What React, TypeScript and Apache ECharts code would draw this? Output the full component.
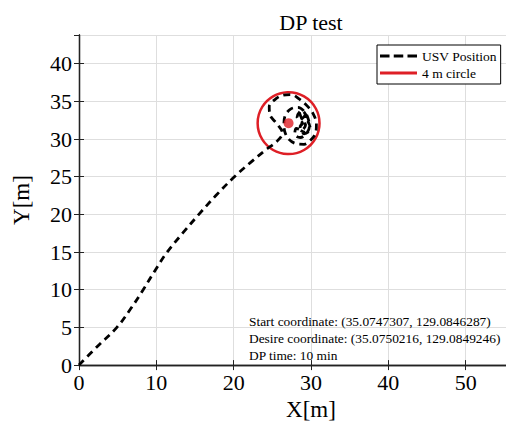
import React, { useEffect, useRef } from "react";
import * as echarts from "echarts";

// USV trajectory (m)
const usvX = [
  0, 2.4, 4.9, 6.7, 8.3, 9.8, 11.4, 13.4, 15.5, 17.7, 20.1, 22.2, 24.2,
  25.6, 26.3, 25.6, 24.7, 24.6, 25.3, 26.3, 27.4, 28.5, 29.5, 30.3, 30.7, 30.6, 30, 29.1, 28, 27.1,
  26.6, 26.5, 26.7, 27.4, 28.3, 29.1, 29.6, 29.8, 29.4, 28.6, 27.9, 28.1, 28.8, 29.3, 28.7, 29.2,
  28.5, 28.9, 29.6, 29.9, 29.1, 28.6, 29.4, 28.8, 28.2, 28.9, 28.4, 29.2,
];
const usvY = [
  0, 2.5, 5, 7.5, 10, 12.5, 15, 17.5, 20, 22.5, 25, 26.9, 28.6,
  29.7, 30.8, 32, 33.2, 34.3, 35.2, 35.8, 35.9, 35.3, 34.4, 33.3, 32, 30.8, 29.9, 29.3, 29.4, 30,
  31, 32.1, 33.2, 34, 34.2, 33.7, 32.8, 31.7, 30.7, 30.2, 30.6, 31.4, 31.2, 31.9, 32.5, 33.1,
  33.5, 32.6, 32.3, 31.3, 30.7, 31.6, 32.9, 33.8, 32.9, 32.1, 31.4, 30.9,
];

// Desired position and circle radius (m)
const desiredPoint = [27.1, 32.1];
const circleRadius = 4;

const xTicks = { min: 0, max: 60, interval: 10 };
const yTicks = { min: 0, max: 43.8, interval: 5 };

const infoLines = [
  "Start coordinate: (35.0747307, 129.0846287)",
  "Desire coordinate: (35.0750216, 129.0849246)",
  "DP time: 10 min",
];

const RED = "#de1f26";
const FONT = "'Liberation Serif', 'Times New Roman', serif";

export default function App() {
  const ref = useRef<HTMLDivElement>(null);

  useEffect(() => {
    document.body.style.margin = "0";
    document.body.style.overflow = "hidden";
    document.documentElement.style.overflow = "hidden";
    if (!ref.current) return;
    const chart = echarts.init(ref.current, undefined, { renderer: "svg" });

    const traj = usvX.map((x, i) => [x, usvY[i]]);

    const axisCommon = {
      axisLine: { show: true, lineStyle: { color: "#222", width: 1.3 } },
      axisTick: { show: true, inside: true, length: 5, lineStyle: { color: "#222", width: 1 } },
    };

    chart.setOption({
      animation: false,
      backgroundColor: "#fff",
      title: {
        text: "DP test",
        left: "center",
        top: 6,
        textStyle: { fontFamily: FONT, fontSize: 22, fontWeight: "normal", color: "#000" },
      },
      grid: { left: 79, right: 79, top: 35, bottom: 54 },
      legend: {
        left: 377,
        top: 45,
        orient: "vertical",
        selectedMode: false,
        backgroundColor: "#fff",
        borderColor: "#000",
        borderWidth: 1,
        borderRadius: 0,
        padding: [4, 4, 4, 3],
        itemGap: 3,
        itemWidth: 37,
        itemHeight: 3,
        symbolKeepAspect: false,
        textStyle: { fontFamily: FONT, fontSize: 13.5, color: "#000" },
        data: [
          {
            name: "USV Position",
            icon: "path://M0,0H9V3H0Z M13,0H22V3H13Z M26,0H35V3H26Z",
            itemStyle: { color: "#000" },
          },
          {
            name: "4 m circle",
            icon: "path://M0,0H40V2H0Z",
            itemStyle: { color: RED },
          },
        ],
      },
      xAxis: [
        {
          type: "value",
          ...xTicks,
          position: "bottom",
          ...axisCommon,
          axisLabel: {
            fontFamily: FONT,
            fontSize: 22,
            color: "#000",
            margin: 6,
            showMaxLabel: false,
          },
          splitLine: { show: true, lineStyle: { color: "#dedede", width: 1 } },
          name: "X[m]",
          nameLocation: "middle",
          nameGap: 29,
          nameTextStyle: { fontFamily: FONT, fontSize: 23, color: "#000" },
        },
        {
          type: "value",
          ...xTicks,
          position: "top",
          ...axisCommon,
          axisLabel: { show: false },
          splitLine: { show: false },
        },
      ],
      yAxis: [
        {
          type: "value",
          ...yTicks,
          position: "left",
          ...axisCommon,
          axisLabel: {
            fontFamily: FONT,
            fontSize: 22,
            color: "#000",
            margin: 7,
            showMaxLabel: false,
          },
          splitLine: { show: true, lineStyle: { color: "#dedede", width: 1 } },
          name: "Y[m]",
          nameLocation: "middle",
          nameGap: 46,
          nameRotate: 90,
          nameTextStyle: { fontFamily: FONT, fontSize: 23, color: "#000" },
        },
        {
          type: "value",
          ...yTicks,
          position: "right",
          ...axisCommon,
          axisLabel: { show: false },
          splitLine: { show: false },
        },
      ],
      series: [
        {
          name: "USV Position",
          type: "line",
          data: traj,
          showSymbol: false,
          symbol: "none",
          smooth: 0.35,
          lineStyle: { color: "#000", width: 2.8, type: [7, 5] },
          itemStyle: { color: "#000" },
          z: 3,
        },
        {
          name: "4 m circle",
          type: "line",
          data: [],
          showSymbol: false,
          symbol: "none",
          lineStyle: { color: RED, width: 2 },
          itemStyle: { color: RED },
        },
        {
          name: "circle",
          type: "custom",
          data: [[desiredPoint[0], desiredPoint[1], circleRadius]],
          renderItem: (params: any, api: any) => {
            const c = api.coord([api.value(0), api.value(1)]);
            const s = api.size([api.value(2), api.value(2)]);
            return {
              type: "circle",
              shape: { cx: c[0], cy: c[1], r: s[0] },
              style: { fill: "none", stroke: RED, lineWidth: 2.5 },
            };
          },
          z: 2,
        },
        {
          name: "desired",
          type: "scatter",
          data: [desiredPoint],
          symbolSize: 10,
          itemStyle: { color: RED },
          z: 4,
        },
      ],
      graphic: [
        {
          type: "text",
          left: 249,
          top: 313,
          style: {
            text: infoLines.join("\n"),
            fontFamily: FONT,
            fontSize: 13.4,
            lineHeight: 17,
            fill: "#000",
          },
          z: 10,
        },
      ],
    });

    return () => chart.dispose();
  }, []);

  return <div ref={ref} style={{ width: 622, height: 426 }} />;
}
